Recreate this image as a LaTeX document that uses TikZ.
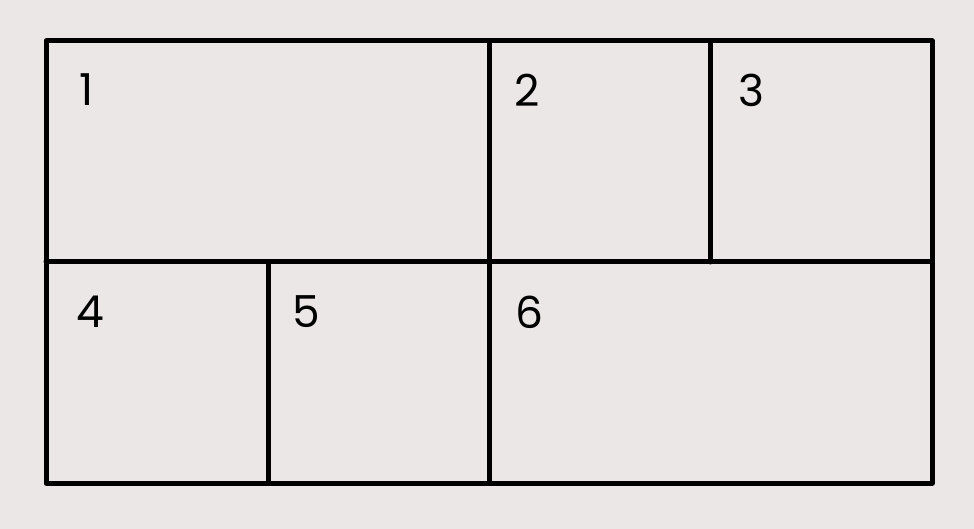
\documentclass[tikz,border=0pt]{standalone}
\usepackage{fontspec}
\setmainfont{Poppins}
\definecolor{bg}{HTML}{EBE7E6}
\begin{document}
\begin{tikzpicture}[x=1pt,y=-1pt,
  gridline/.style={line width=5pt,black,line cap=round,line join=round},
  lbl/.style={inner sep=0pt,anchor=center,font=\fontsize{44}{44}\selectfont}]
\fill[bg] (0,0) rectangle (974,529);
\useasboundingbox (0,0) rectangle (974,529);
\coordinate (tl) at (46,41);
\coordinate (br) at (932,483);
\draw[gridline] (tl) rectangle (br);
\draw[gridline] (46,262) -- (932,262);
\draw[gridline] (489,41) -- (489,483);
\draw[gridline] (710,41) -- (710,262);
\draw[gridline] (268,262) -- (268,483);
\node[lbl] (n1) at (87,90) {1};
\node[lbl] (n2) at (527,90) {2};
\node[lbl] (n3) at (751,90) {3};
\node[lbl] (n4) at (90,312) {4};
\node[lbl] (n5) at (306,312) {5};
\node[lbl] (n6) at (529,312) {6};
\end{tikzpicture}
\end{document}
